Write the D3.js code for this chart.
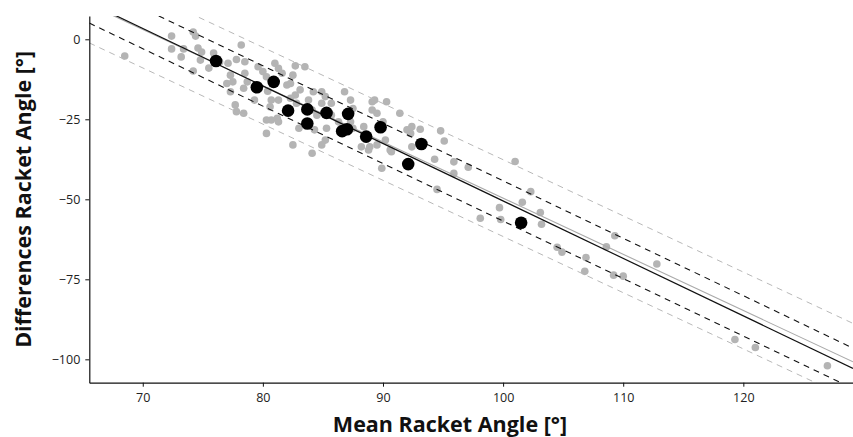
<!DOCTYPE html>
<html lang="en">
<head>
  <meta charset="UTF-8">
  <title>Bland-Altman Racket Angle</title>
  <script src="https://d3js.org/d3.v7.min.js"></script>
  <style>
    body {
      margin: 0;
      overflow: hidden;
      background: #fff;
      font-family: 'Open Sans', 'Noto Sans', sans-serif;
    }
    .tick text {
      font-size: 12.5px;
      fill: #222;
    }
    .axis-title {
      font-size: 21.5px;
      font-weight: bold;
      fill: #111;
    }
  </style>
</head>
<body>
<svg width="853" height="437"></svg>
<script>
  // trial-level points (mean, difference)
  const trialMean = [
    68.5, 72.4, 72.4, 73.2, 73.4, 74.2, 74.4, 74.6, 74.9, 74.8, 74.2, 75.5, 75.9, 76.4,
    78.2, 77.1, 77.8, 78.5, 77.3, 77.5, 77.0, 78.5, 78.7, 78.4, 77.3, 77.7, 77.8, 78.4,
    79.3, 79.6, 80.0, 80.3, 81.0, 81.3, 81.6, 82.0, 82.3, 82.5, 82.7, 83.5, 83.1, 82.7,
    82.3, 81.3, 80.7, 80.6, 80.3, 80.7, 81.2, 81.3, 80.3, 82.5, 83.0, 82.8, 84.1, 83.8,
    84.2, 84.9, 85.2, 84.9, 85.7, 85.7, 84.5, 84.3, 85.3, 85.2, 84.9, 84.1, 86.3, 86.8,
    87.3, 87.5, 87.3, 87.5, 80.4,
    89.1, 89.3, 89.1, 89.5, 90.3, 90.0, 88.4, 88.2, 88.8, 88.9, 89.5, 90.2, 90.6, 90.7,
    91.4, 92.0, 92.4, 92.3, 93.1, 92.4, 89.9, 94.3, 94.8, 95.1, 95.9, 95.9, 97.1, 94.5,
    98.1, 99.7, 99.8, 101.0, 101.6, 102.3, 103.1, 103.2, 104.5, 104.9, 106.9, 106.8,
    109.2, 110.0, 109.3, 108.6, 112.8, 119.3, 121.0, 127.0
  ];
  const trialDiff = [
    -5.2, 1.0, -3.0, -5.5, -3.0, 2.3, 1.0, -2.7, -4.0, -6.5, -9.9, -9.0, -4.3, -7.1,
    -1.8, -7.5, -6.3, -7.0, -11.2, -13.3, -13.8, -10.6, -13.3, -15.3, -16.4, -20.5, -22.6, -23.1,
    -19.0, -8.6, -10.1, -11.7, -7.5, -9.1, -10.6, -14.3, -13.8, -11.2, -8.3, -8.6, -15.8, -17.4,
    -18.4, -19.0, -19.0, -21.1, -25.2, -25.2, -24.7, -25.8, -29.4, -33.0, -27.8, -20.0, -22.1, -19.0,
    -16.4, -16.4, -17.9, -20.0, -20.0, -23.7, -23.7, -28.3, -27.8, -31.5, -33.0, -35.6, -25.8, -16.4,
    -19.0, -21.6, -25.8, -27.8, -16.2,
    -19.5, -19.0, -22.1, -23.1, -19.5, -25.8, -27.3, -33.6, -34.6, -33.6, -33.0, -31.5, -34.6, -35.1,
    -23.1, -28.3, -27.3, -29.4, -28.1, -33.6, -40.3, -37.5, -28.6, -31.8, -38.3, -41.9, -40.0, -46.9,
    -55.9, -52.6, -56.3, -38.2, -50.9, -47.6, -54.1, -57.8, -65.0, -66.5, -68.2, -72.5,
    -73.7, -74.0, -61.4, -64.8, -70.2, -93.8, -96.3, -102.0
  ];

  // subject-level points (mean, difference)
  const subjMean = [76.1, 79.5, 80.9, 82.1, 83.7, 83.7, 85.3, 87.1, 86.6, 87.0, 88.6, 89.8, 93.2, 92.1, 101.5];
  const subjDiff = [-6.8, -15.0, -13.3, -22.3, -21.9, -26.3, -23.0, -23.3, -28.7, -28.1, -30.4, -27.5, -32.7, -39.0, -57.3];

  // regression lines: [intercept, slope], limits as offsets
  const subjFit = [129.1, -1.796];
  const subjLimits = [6.3, -6.3];
  const trialFit = [125.98, -1.756];
  const trialLimits = [12, -12];

  const xTicks = [70, 80, 90, 100, 110, 120];
  const yTicks = [0, -25, -50, -75, -100];

  const svg = d3.select("svg");
  const mLeft = 89.3, mRight = 853, mTop = 16, mBottom = 382.7;

  const x = d3.scaleLinear().domain([65.55, 129.13]).range([mLeft, mRight]);
  const y = d3.scaleLinear().domain([-107.3, 7.28]).range([mBottom, mTop]);

  svg.append("defs").append("clipPath")
          .attr("id", "plotClip")
          .append("rect")
          .attr("x", mLeft)
          .attr("y", mTop)
          .attr("width", mRight - mLeft)
          .attr("height", mBottom - mTop);

  // gray trial points
  svg.append("g")
          .selectAll("circle")
          .data(d3.range(trialMean.length))
          .join("circle")
          .attr("cx", i => x(trialMean[i]))
          .attr("cy", i => y(trialDiff[i]))
          .attr("r", 3.8)
          .attr("fill", "#b4b4b4");

  const x0 = x.domain()[0], x1 = x.domain()[1];
  const lines = [
    { fit: trialFit, off: 0, color: "#aaaaaa", dash: null, w: 1.1 },
    { fit: trialFit, off: trialLimits[0], color: "#b8b8b8", dash: "6,5", w: 1 },
    { fit: trialFit, off: trialLimits[1], color: "#b8b8b8", dash: "6,5", w: 1 },
    { fit: subjFit, off: subjLimits[0], color: "#111", dash: "6,5", w: 1.1 },
    { fit: subjFit, off: subjLimits[1], color: "#111", dash: "6,5", w: 1.1 },
    { fit: subjFit, off: 0, color: "#111", dash: null, w: 1.2 }
  ];

  svg.append("g")
          .attr("clip-path", "url(#plotClip)")
          .selectAll("line")
          .data(lines)
          .join("line")
          .attr("x1", x(x0))
          .attr("x2", x(x1))
          .attr("y1", d => y(d.fit[0] + d.fit[1] * x0 + d.off))
          .attr("y2", d => y(d.fit[0] + d.fit[1] * x1 + d.off))
          .attr("stroke", d => d.color)
          .attr("stroke-width", d => d.w)
          .attr("stroke-dasharray", d => d.dash);

  // black subject points
  svg.append("g")
          .selectAll("circle")
          .data(d3.range(subjMean.length))
          .join("circle")
          .attr("cx", i => x(subjMean[i]))
          .attr("cy", i => y(subjDiff[i]))
          .attr("r", 6.3)
          .attr("fill", "#000");

  // axes
  const xAxis = svg.append("g")
          .attr("transform", `translate(0,${mBottom})`)
          .call(d3.axisBottom(x).tickValues(xTicks).tickSize(4).tickSizeOuter(0).tickPadding(6));
  const yAxis = svg.append("g")
          .attr("transform", `translate(${mLeft},0)`)
          .call(d3.axisLeft(y).tickValues(yTicks).tickSize(4).tickSizeOuter(0).tickPadding(5));
  [xAxis, yAxis].forEach(a => {
    a.select(".domain").attr("stroke", "#111").attr("stroke-width", 1.2);
    a.selectAll(".tick line").attr("stroke", "#111");
    a.attr("font-family", null);
  });

  svg.append("text")
          .attr("class", "axis-title")
          .attr("x", 450)
          .attr("y", 432)
          .attr("text-anchor", "middle")
          .text("Mean Racket Angle [°]");

  svg.append("text")
          .attr("class", "axis-title")
          .attr("transform", `translate(31,${(mTop + mBottom) / 2}) rotate(-90)`)
          .attr("text-anchor", "middle")
          .text("Differences Racket Angle [°]");
</script>
</body>
</html>
